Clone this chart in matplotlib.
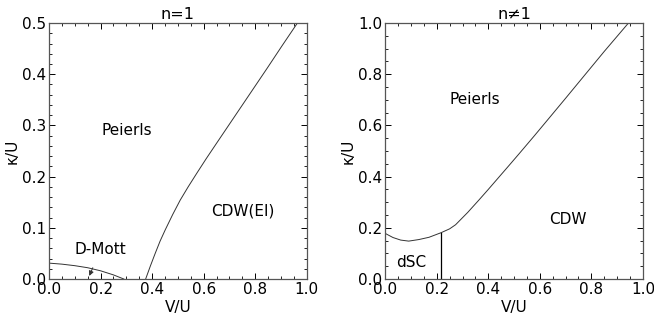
import numpy as np
import matplotlib
matplotlib.use('Agg')
import matplotlib.pyplot as plt
from matplotlib.ticker import MultipleLocator

# n=1 phase boundaries
cdw_v = [0.375, 0.393, 0.412, 0.431, 0.451, 0.48, 0.509, 0.54, 0.574, 0.61, 0.65,
         0.717, 0.78, 0.847, 0.905, 0.964]
cdw_k = [0.0, 0.025, 0.05, 0.074, 0.096, 0.126, 0.154, 0.18, 0.207, 0.235, 0.265,
         0.315, 0.362, 0.412, 0.456, 0.50]
mott_v = [0.0, 0.05, 0.10, 0.15, 0.20, 0.25, 0.29]
mott_k = [0.031, 0.029, 0.026, 0.022, 0.016, 0.008, 0.0]

# n!=1 phase boundaries
peierls_v = [0.0, 0.03, 0.06, 0.091, 0.13, 0.17, 0.217, 0.25, 0.273, 0.32, 0.364,
             0.40, 0.443, 0.48, 0.521, 0.58, 0.638, 0.70, 0.768, 0.85, 0.944]
peierls_k = [0.178, 0.162, 0.152, 0.148, 0.154, 0.163, 0.181, 0.196, 0.212, 0.26, 0.309,
             0.35, 0.40, 0.443, 0.491, 0.561, 0.631, 0.706, 0.789, 0.889, 1.0]
dsc_v = [0.217, 0.217]
dsc_k = [0.0, 0.181]

plt.rcParams['font.family'] = 'DejaVu Sans'
plt.rcParams['font.size'] = 11

fig, (ax1, ax2) = plt.subplots(1, 2, figsize=(6.54, 3.29), dpi=100)
fig.subplots_adjust(left=0.075, right=0.983, bottom=0.152, top=0.93, wspace=0.305)

ax1.plot(cdw_v, cdw_k, color='#333333', lw=0.7)
ax1.plot(mott_v, mott_k, color='#333333', lw=0.7)
ax1.annotate('D-Mott', xy=(0.156, 0.006), xytext=(0.2, 0.057), ha='center', va='center',
             arrowprops=dict(arrowstyle='-|>', color='#333333', lw=0.7, mutation_scale=7,
                             shrinkA=6, shrinkB=0))
ax1.text(0.30, 0.29, 'Peierls', ha='center', va='center')
ax1.text(0.752, 0.133, 'CDW(EI)', ha='center', va='center')
ax1.set_xlim(0, 1)
ax1.set_ylim(0, 0.5)
ax1.xaxis.set_major_locator(MultipleLocator(0.2))
ax1.xaxis.set_minor_locator(MultipleLocator(0.05))
ax1.yaxis.set_major_locator(MultipleLocator(0.1))
ax1.yaxis.set_minor_locator(MultipleLocator(0.02))
ax1.set_title('n=1', fontsize=11.5, pad=3)

ax2.plot(peierls_v, peierls_k, color='#333333', lw=0.7)
ax2.plot(dsc_v, dsc_k, color='black', lw=0.9)
ax2.text(0.349, 0.70, 'Peierls', ha='center', va='center')
ax2.text(0.71, 0.234, 'CDW', ha='center', va='center')
ax2.text(0.10, 0.065, 'dSC', ha='center', va='center')
ax2.set_xlim(0, 1)
ax2.set_ylim(0, 1)
ax2.xaxis.set_major_locator(MultipleLocator(0.2))
ax2.xaxis.set_minor_locator(MultipleLocator(0.05))
ax2.yaxis.set_major_locator(MultipleLocator(0.2))
ax2.yaxis.set_minor_locator(MultipleLocator(0.05))
ax2.set_title('n≠1', fontsize=11.5, pad=3)

for ax in (ax1, ax2):
    ax.set_xlabel('V/U', labelpad=2)
    ax.set_ylabel('κ/U', labelpad=2)
    ax.tick_params(which='both', direction='in', top=True, right=True, pad=2)
    ax.tick_params(which='major', length=4, width=0.7)
    ax.tick_params(which='minor', length=2, width=0.6)
    for s in ax.spines.values():
        s.set_color('#555555')
        s.set_linewidth(0.9)

plt.savefig('out.png', dpi=100)
